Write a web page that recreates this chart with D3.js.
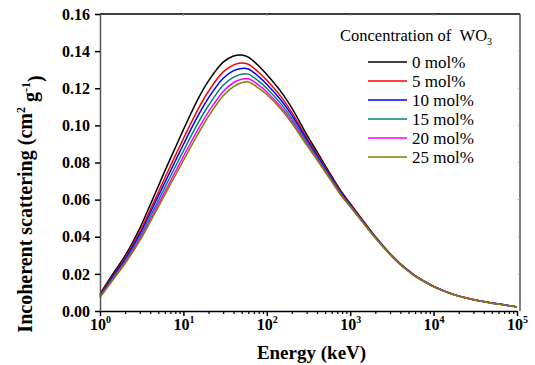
<!DOCTYPE html>
<html>
<head>
<meta charset="utf-8">
<script src="https://cdn.jsdelivr.net/npm/d3@7/dist/d3.min.js"></script>
<style>
  body { margin: 0; background: #fff; }
  svg { display: block; }
</style>
</head>
<body>
<svg id="chart" width="535" height="365"></svg>
<script>
// photon energy (keV)
const energy = [1, 1.5, 2, 3, 4, 5, 6, 8, 10, 15, 20, 30, 40, 50, 60, 80, 100, 150, 200, 300, 400, 500, 600, 800,
  1000, 1500, 2000, 3000, 4000, 5000, 6000, 8000, 10000, 15000, 20000, 30000, 40000, 50000, 60000, 80000, 100000];

// incoherent scattering (cm2/g) for each WO3 concentration
const mol0 = [0.0092, 0.0214, 0.0298, 0.0446, 0.0572, 0.0672, 0.0755, 0.0880, 0.0977, 0.1143, 0.1240, 0.1341, 0.1374, 0.1379, 0.1368, 0.1320, 0.1274, 0.1178, 0.1093, 0.0952, 0.0858, 0.0785, 0.0726, 0.0637,
  0.0579, 0.0474, 0.0402, 0.0310, 0.0254, 0.0218, 0.0191, 0.0157, 0.0133, 0.0100, 0.0081, 0.0062, 0.0051, 0.0043, 0.0038, 0.0029, 0.0022];
const mol5 = [0.0087, 0.0204, 0.0286, 0.0427, 0.0545, 0.0640, 0.0718, 0.0837, 0.0929, 0.1088, 0.1184, 0.1288, 0.1326, 0.1336, 0.1329, 0.1286, 0.1243, 0.1151, 0.1069, 0.0935, 0.0846, 0.0775, 0.0718, 0.0631,
  0.0574, 0.0471, 0.0399, 0.0308, 0.0253, 0.0217, 0.0190, 0.0156, 0.0132, 0.0099, 0.0081, 0.0062, 0.0051, 0.0043, 0.0038, 0.0029, 0.0022];
const mol10 = [0.0083, 0.0198, 0.0278, 0.0414, 0.0528, 0.0619, 0.0693, 0.0808, 0.0897, 0.1052, 0.1148, 0.1254, 0.1295, 0.1307, 0.1304, 0.1263, 0.1222, 0.1133, 0.1054, 0.0925, 0.0837, 0.0768, 0.0712, 0.0626,
  0.0571, 0.0468, 0.0398, 0.0307, 0.0252, 0.0216, 0.0189, 0.0155, 0.0132, 0.0099, 0.0080, 0.0061, 0.0051, 0.0043, 0.0038, 0.0029, 0.0022];
const mol15 = [0.0079, 0.0190, 0.0269, 0.0400, 0.0509, 0.0595, 0.0666, 0.0777, 0.0862, 0.1013, 0.1107, 0.1216, 0.1260, 0.1276, 0.1276, 0.1238, 0.1199, 0.1113, 0.1036, 0.0913, 0.0828, 0.0761, 0.0706, 0.0622,
  0.0567, 0.0466, 0.0396, 0.0306, 0.0250, 0.0215, 0.0188, 0.0155, 0.0131, 0.0099, 0.0080, 0.0061, 0.0050, 0.0042, 0.0037, 0.0029, 0.0022];
const mol20 = [0.0076, 0.0184, 0.0262, 0.0388, 0.0492, 0.0576, 0.0643, 0.0750, 0.0833, 0.0979, 0.1073, 0.1183, 0.1231, 0.1249, 0.1251, 0.1217, 0.1180, 0.1096, 0.1022, 0.0902, 0.0821, 0.0754, 0.0701, 0.0618,
  0.0564, 0.0464, 0.0394, 0.0305, 0.0250, 0.0214, 0.0188, 0.0154, 0.0131, 0.0098, 0.0080, 0.0061, 0.0050, 0.0042, 0.0037, 0.0028, 0.0022];
const mol25 = [0.0074, 0.0180, 0.0256, 0.0379, 0.0480, 0.0561, 0.0627, 0.0730, 0.0811, 0.0954, 0.1048, 0.1160, 0.1209, 0.1230, 0.1234, 0.1201, 0.1166, 0.1084, 0.1011, 0.0895, 0.0815, 0.0750, 0.0697, 0.0615,
  0.0562, 0.0462, 0.0393, 0.0304, 0.0249, 0.0214, 0.0187, 0.0154, 0.0130, 0.0098, 0.0079, 0.0061, 0.0050, 0.0042, 0.0037, 0.0028, 0.0022];

const seriesNames = ['0 mol%', '5 mol%', '10 mol%', '15 mol%', '20 mol%', '25 mol%'];
const seriesValues = [mol0, mol5, mol10, mol15, mol20, mol25];
const seriesColors = ['#000000', '#ff0000', '#0000ff', '#008080', '#ff00ff', '#808000'];

const yTicks = [0, 0.02, 0.04, 0.06, 0.08, 0.10, 0.12, 0.14, 0.16];
const xMajor = [1, 10, 100, 1000, 10000, 100000];

const plotLeft = 100, plotRight = 517, plotTop = 14, plotBottom = 311, frameRight = 520;
const serif = "'Liberation Serif'";

const svg = d3.select('#chart');

const x = d3.scaleLog().domain([1, 100000]).range([plotLeft, plotRight]);
const y = d3.scaleLinear().domain([0, 0.16]).range([plotBottom, plotTop]);

// minor ticks between decades
const xMinor = [];
xMajor.slice(0, -1).forEach(d => {
  for (let k = 2; k <= 9; k++) xMinor.push(d * k);
});

// frame: top and right
svg.append('line')
  .attr('x1', plotLeft).attr('x2', frameRight).attr('y1', plotTop).attr('y2', plotTop)
  .attr('stroke', '#000').attr('stroke-width', 1.5);
svg.append('line')
  .attr('x1', frameRight).attr('x2', frameRight).attr('y1', plotTop).attr('y2', plotBottom)
  .attr('stroke', '#555').attr('stroke-width', 1.5);

// small inward ticks on top and right
svg.append('g').selectAll('line')
  .data(xMajor.slice(1, -1))
  .enter().append('line')
  .attr('x1', d => x(d)).attr('x2', d => x(d))
  .attr('y1', plotTop).attr('y2', plotTop + 2)
  .attr('stroke', '#999').attr('stroke-width', 1);
svg.append('g').selectAll('line')
  .data(yTicks.slice(1, -1))
  .enter().append('line')
  .attr('x1', frameRight - 2).attr('x2', frameRight)
  .attr('y1', d => y(d)).attr('y2', d => y(d))
  .attr('stroke', '#999').attr('stroke-width', 1);

// curves
const line = d3.line()
  .x(d => x(d[0]))
  .y(d => y(d[1]))
  .curve(d3.curveCatmullRom.alpha(0.5));

svg.append('g')
  .selectAll('path')
  .data(seriesValues)
  .enter().append('path')
  .attr('fill', 'none')
  .attr('stroke', (d, i) => seriesColors[i])
  .attr('stroke-width', 1.5)
  .attr('d', d => line(energy.map((e, j) => [e, d[j]])));

// x axis
const xAxisMinor = svg.append('g')
  .attr('transform', 'translate(0,' + plotBottom + ')')
  .call(d3.axisBottom(x).tickValues(xMinor).tickSize(3).tickFormat(''));
xAxisMinor.select('.domain').remove();
xAxisMinor.selectAll('line').attr('stroke', '#000').attr('stroke-width', 1.2);

const xAxis = svg.append('g')
  .attr('transform', 'translate(0,' + plotBottom + ')')
  .call(d3.axisBottom(x).tickValues(xMajor).tickSize(5).tickSizeOuter(0).tickPadding(3));
xAxis.attr('font-family', null);
xAxis.select('.domain').attr('stroke', '#000').attr('stroke-width', 1.5);
xAxis.selectAll('line').attr('stroke', '#000').attr('stroke-width', 1.5);
xAxis.selectAll('text')
  .style('font-family', serif)
  .attr('font-size', 16)
  .attr('font-weight', 'bold')
  .attr('fill', '#000')
  .text(null)
  .each(function (d) {
    const t = d3.select(this);
    t.append('tspan').text('10');
    t.append('tspan')
      .attr('font-size', 10)
      .attr('dy', '-0.7em')
      .text(Math.round(Math.log10(d)));
  });

// y axis
const yAxis = svg.append('g')
  .attr('transform', 'translate(' + plotLeft + ',0)')
  .call(d3.axisLeft(y).tickValues(yTicks).tickFormat(d3.format('.2f')).tickSize(5).tickSizeOuter(0).tickPadding(5));
yAxis.attr('font-family', null);
yAxis.select('.domain').attr('stroke', '#555').attr('stroke-width', 1.5);
yAxis.selectAll('line').attr('stroke', '#000').attr('stroke-width', 1.5);
yAxis.selectAll('text')
  .style('font-family', serif)
  .attr('font-size', 16)
  .attr('font-weight', 'bold')
  .attr('fill', '#000');

// axis titles
svg.append('text')
  .style('font-family', serif)
  .attr('x', (plotLeft + plotRight) / 2 + 3)
  .attr('y', 359)
  .attr('text-anchor', 'middle')
  .attr('font-size', 19)
  .attr('font-weight', 'bold')
  .text('Energy (keV)');

const yTitle = svg.append('text')
  .style('font-family', serif)
  .attr('transform', 'translate(32,' + 204 + ') rotate(-90)')
  .attr('text-anchor', 'middle')
  .attr('font-size', 20)
  .attr('font-weight', 'bold');
yTitle.append('tspan').text('Incoherent scattering (cm');
yTitle.append('tspan').attr('font-size', 12).attr('dy', '-0.6em').text('2');
yTitle.append('tspan').attr('dy', '0.6em').text(' g');
yTitle.append('tspan').attr('font-size', 12).attr('dy', '-0.6em').text('-1');
yTitle.append('tspan').attr('dy', '0.6em').text(')');

// legend
const legendTitle = svg.append('text')
  .style('font-family', serif)
  .attr('x', 340)
  .attr('y', 41)
  .attr('font-size', 16.5);
legendTitle.append('tspan').text('Concentration of \u00a0WO');
legendTitle.append('tspan').attr('font-size', 10).attr('dy', '0.4em').text('3');

const legend = svg.append('g')
  .selectAll('g')
  .data(seriesNames)
  .enter().append('g')
  .attr('transform', (d, i) => 'translate(0,' + (62 + i * 19) + ')');
legend.append('line')
  .attr('x1', 368).attr('x2', 407)
  .attr('stroke', (d, i) => seriesColors[i])
  .attr('stroke-width', 1.5);
legend.append('text')
  .style('font-family', serif)
  .attr('x', 412)
  .attr('dy', '0.33em')
  .attr('font-size', 17)
  .text(d => d);
</script>
</body>
</html>
